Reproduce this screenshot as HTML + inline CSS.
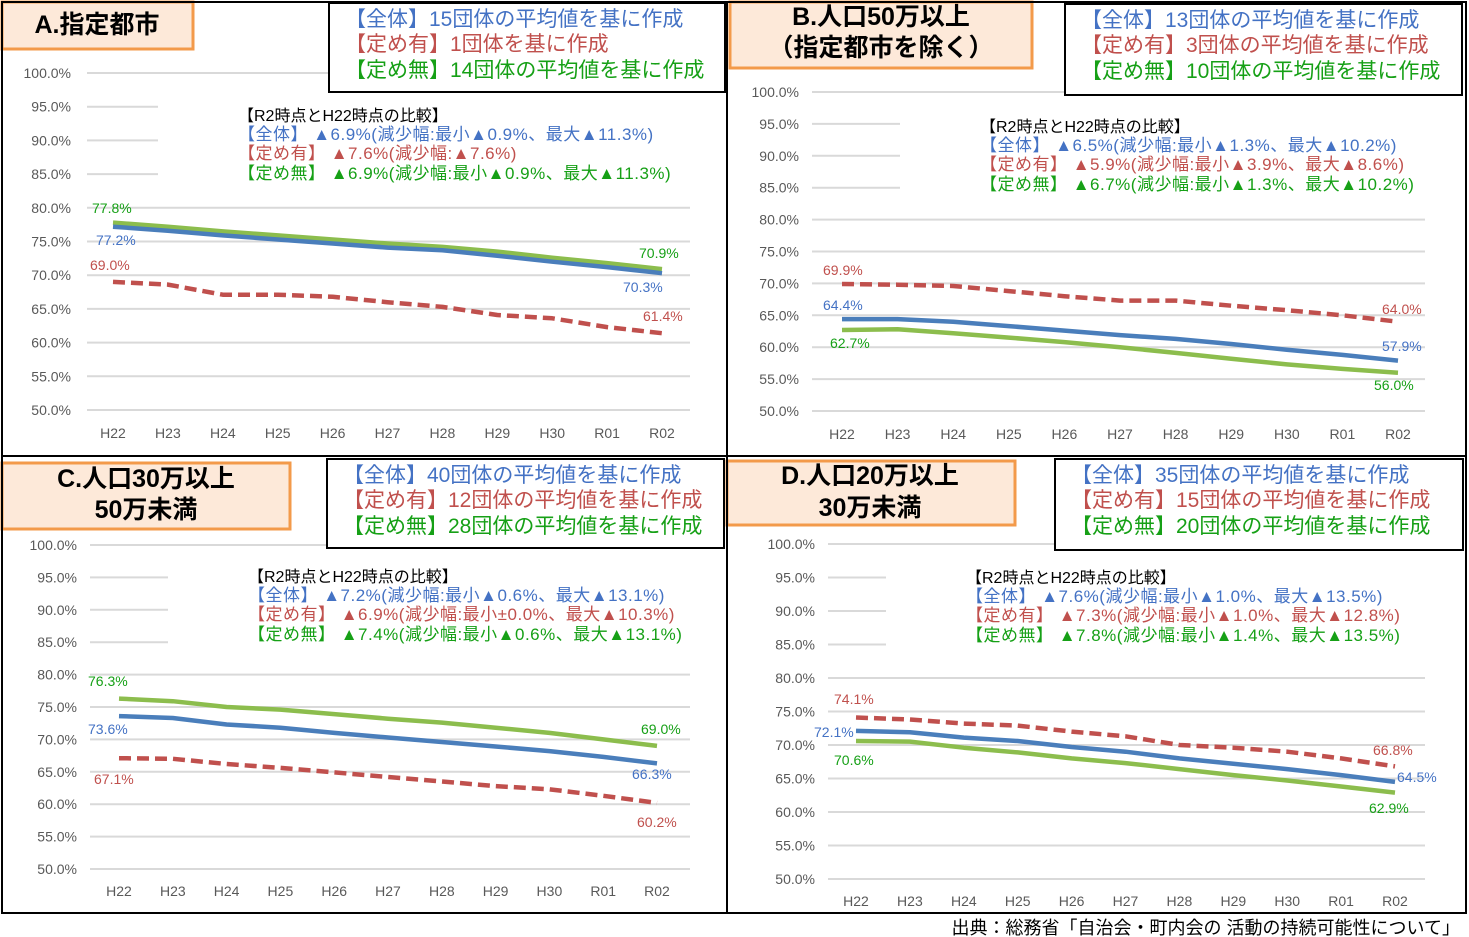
<!DOCTYPE html>
<html><head><meta charset="utf-8"><style>
html,body{margin:0;padding:0;background:#fff;width:1469px;height:937px;overflow:hidden}
svg{display:block}
text{font-family:"Liberation Sans","Noto Sans CJK JP",sans-serif}
</style></head><body>
<svg id="s" width="1469" height="937" xmlns="http://www.w3.org/2000/svg"></svg>
<script>
var S=document.getElementById('s'),h='';
var B='#4a7ebb',G='#8cbd4d',R='#c0504d',TB='#4472c4',TG='#16a016',TR='#c0504d';
function t(x,y,s,sz,c,a,w,ls){h+='<text x="'+x+'" y="'+y+'" font-size="'+sz+'" fill="'+c+'" text-anchor="'+(a||'start')+'"'+(w?' font-weight="bold"':'')+(ls?' letter-spacing="'+ls+'"':'')+'>'+s+'</text>';}
function panel(p){
 var yv=function(v){return p.y100+(100-v)/50*(p.y50-p.y100);};
 var xv=function(i){return p.x0+i*(p.x10-p.x0)/10;};
 for(var k=0;k<=10;k++){var v=100-5*k,y=yv(v);
  h+='<line x1="'+p.gx0+'" x2="'+p.gx1+'" y1="'+y+'" y2="'+y+'" stroke="#d9d9d9" stroke-width="2"/>';
  t(p.lx,y+5,v.toFixed(1)+'%',14,'#595959','end');}
 h+='<rect x="'+(p.ax-80)+'" y="'+(yv(96.5))+'" width="'+(p.gx1-p.ax+100)+'" height="'+(yv(83)-yv(96.5))+'" fill="#fff"/>';
 var L=['H22','H23','H24','H25','H26','H27','H28','H29','H30','R01','R02'];
 for(var i=0;i<11;i++)t(xv(i),p.xly,L[i],14,'#595959','middle');
 function line(d,c,dash){var s='';for(var i=0;i<11;i++)s+=(i?'L':'M')+xv(i).toFixed(1)+','+yv(d[i]).toFixed(1);
  h+='<path d="'+s+'" fill="none" stroke="'+c+'" stroke-width="4.5" stroke-linejoin="round"'+(dash?' stroke-dasharray="12,6"':'')+'/>';}
 line(p.r,R,1);line(p.g,G);line(p.b,B);
 p.lab.forEach(function(l){t(l[0],l[1],l[2],14,l[3]);});
 t(p.ax,p.ay,'【R2時点とH22時点の比較】',16,'#000');
 t(p.ax,p.ay+19,p.a[0],17,TB,0,0,0.5);t(p.ax,p.ay+38,p.a[1],17,TR,0,0,0.5);t(p.ax,p.ay+58,p.a[2],17,TG,0,0,0.5);
 h+='<rect x="'+p.tb[0]+'" y="'+p.tb[1]+'" width="'+p.tb[2]+'" height="'+p.tb[3]+'" fill="#fde9d9" stroke="#f39a4a" stroke-width="3"/>';
 p.tt.forEach(function(q){t(q[0],q[1],q[2],25,'#000','middle',1);});
 h+='<rect x="'+p.lb[0]+'" y="'+p.lb[1]+'" width="'+p.lb[2]+'" height="'+p.lb[3]+'" fill="#fff" stroke="#000" stroke-width="2"/>';
 var lx=p.lb[0]+16,ly=p.lb[1]+23;
 t(lx,ly,p.l[0],21,TB);t(lx,ly+25,p.l[1],21,TR);t(lx,ly+51,p.l[2],21,TG);
}
panel({y100:73,y50:410,x0:113,x10:662,gx0:87,gx1:690,lx:71,xly:438,ax:238,ay:121,
 g:[77.8,77.2,76.5,75.9,75.3,74.7,74.2,73.5,72.6,71.8,70.9],b:[77.2,76.6,75.9,75.3,74.7,74.1,73.7,72.9,72.0,71.2,70.3],
 r:[69,68.6,67.1,67.1,66.8,66.0,65.3,64.1,63.6,62.3,61.4],
 lab:[[92,213,'77.8%',TG],[96,245,'77.2%',TB],[90,270,'69.0%',TR],[639,258,'70.9%',TG],[623,292,'70.3%',TB],[643,321,'61.4%',TR]],
 a:['【全体】 ▲6.9%(減少幅:最小▲0.9%、最大▲11.3%)','【定め有】 ▲7.6%(減少幅:▲7.6%)','【定め無】 ▲6.9%(減少幅:最小▲0.9%、最大▲11.3%)'],
 tb:[2,2,191,47],tt:[[97,33,'A.指定都市']],lb:[329,3,396,89],
 l:['【全体】15団体の平均値を基に作成','【定め有】1団体を基に作成','【定め無】14団体の平均値を基に作成']});
panel({y100:92,y50:411,x0:842,x10:1398,gx0:812,gx1:1425,lx:799,xly:439,ax:980,ay:132,
 r:[69.9,69.8,69.6,68.8,68.0,67.3,67.3,66.5,65.8,65.0,64.0],b:[64.4,64.4,64.0,63.3,62.6,61.9,61.3,60.5,59.6,58.8,57.9],
 g:[62.7,62.8,62.2,61.5,60.8,60.0,59.1,58.2,57.3,56.6,56.0],
 lab:[[823,275,'69.9%',TR],[823,310,'64.4%',TB],[830,348,'62.7%',TG],[1382,314,'64.0%',TR],[1382,351,'57.9%',TB],[1374,390,'56.0%',TG]],
 a:['【全体】 ▲6.5%(減少幅:最小▲1.3%、最大▲10.2%)','【定め有】 ▲5.9%(減少幅:最小▲3.9%、最大▲8.6%)','【定め無】 ▲6.7%(減少幅:最小▲1.3%、最大▲10.2%)'],
 tb:[730,2,302,66],tt:[[881,25,'B.人口50万以上'],[881,56,'（指定都市を除く）']],lb:[1065,4,397,91],
 l:['【全体】13団体の平均値を基に作成','【定め有】3団体の平均値を基に作成','【定め無】10団体の平均値を基に作成']});
panel({y100:545,y50:869,x0:119,x10:657,gx0:90,gx1:690,lx:77,xly:896,ax:248,ay:582,
 g:[76.3,75.9,75.0,74.6,73.9,73.2,72.6,71.8,71.0,70.0,69.0],b:[73.6,73.3,72.3,71.8,71.0,70.3,69.6,68.9,68.2,67.3,66.3],
 r:[67.1,67.0,66.2,65.6,64.9,64.2,63.5,62.8,62.3,61.3,60.2],
 lab:[[88,686,'76.3%',TG],[88,734,'73.6%',TB],[94,784,'67.1%',TR],[641,734,'69.0%',TG],[632,779,'66.3%',TB],[637,827,'60.2%',TR]],
 a:['【全体】 ▲7.2%(減少幅:最小▲0.6%、最大▲13.1%)','【定め有】 ▲6.9%(減少幅:最小±0.0%、最大▲10.3%)','【定め無】 ▲7.4%(減少幅:最小▲0.6%、最大▲13.1%)'],
 tb:[2,463,288,66],tt:[[146,487,'C.人口30万以上'],[146,518,'50万未満']],lb:[327,459,397,89],
 l:['【全体】40団体の平均値を基に作成','【定め有】12団体の平均値を基に作成','【定め無】28団体の平均値を基に作成']});
panel({y100:544,y50:879,x0:856,x10:1395,gx0:828,gx1:1425,lx:815,xly:906,ax:966,ay:583,
 r:[74.1,73.8,73.2,72.9,72.0,71.3,70.0,69.6,69.0,68.0,66.8],b:[72.1,71.9,71.1,70.6,69.7,69.0,68.0,67.2,66.4,65.5,64.5],
 g:[70.6,70.5,69.6,68.9,68.0,67.3,66.4,65.5,64.7,63.8,62.9],
 lab:[[834,704,'74.1%',TR],[814,737,'72.1%',TB],[834,765,'70.6%',TG],[1373,755,'66.8%',TR],[1397,782,'64.5%',TB],[1369,813,'62.9%',TG]],
 a:['【全体】 ▲7.6%(減少幅:最小▲1.0%、最大▲13.5%)','【定め有】 ▲7.3%(減少幅:最小▲1.0%、最大▲12.8%)','【定め無】 ▲7.8%(減少幅:最小▲1.4%、最大▲13.5%)'],
 tb:[727,461,288,64],tt:[[870,484,'D.人口20万以上'],[870,516,'30万未満']],lb:[1055,459,408,91],
 l:['【全体】35団体の平均値を基に作成','【定め有】15団体の平均値を基に作成','【定め無】20団体の平均値を基に作成']});
h+='<rect x="2" y="2" width="1464" height="911" fill="none" stroke="#000" stroke-width="2"/>';
h+='<line x1="727" y1="2" x2="727" y2="913" stroke="#000" stroke-width="2"/>';
h+='<line x1="2" y1="456" x2="1466" y2="456" stroke="#000" stroke-width="2"/>';
t(1460,934,'出典：総務省「自治会・町内会の 活動の持続可能性について」',18,'#000','end');
S.innerHTML=h;
</script>
</body></html>
